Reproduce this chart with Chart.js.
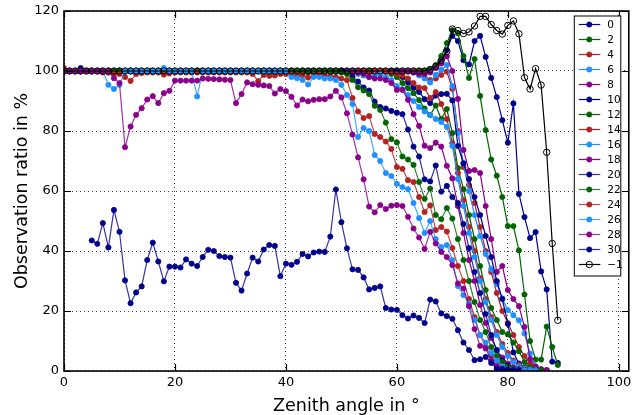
<!DOCTYPE html>
<html>
<head>
<meta charset="utf-8">
<script src="https://cdn.jsdelivr.net/npm/chart.js@4.4.0/dist/chart.umd.min.js"></script>
<style>
  html, body { margin: 0; padding: 0; background: #fff; overflow: hidden; }
  #chart { display: block; }
</style>
</head>
<body>
<canvas id="chart" width="633" height="415"></canvas>
<script>
// zenith angle bins (deg)
const zenith = [
  0, 1, 2, 3, 4, 5, 6, 7, 8, 9,
  10, 11, 12, 13, 14, 15, 16, 17, 18, 19,
  20, 21, 22, 23, 24, 25, 26, 27, 28, 29,
  30, 31, 32, 33, 34, 35, 36, 37, 38, 39,
  40, 41, 42, 43, 44, 45, 46, 47, 48, 49,
  50, 51, 52, 53, 54, 55, 56, 57, 58, 59,
  60, 61, 62, 63, 64, 65, 66, 67, 68, 69,
  70, 71, 72, 73, 74, 75, 76, 77, 78, 79,
  80, 81, 82, 83, 84, 85, 86, 87, 88, 89
];

const xTickValues = [0, 20, 40, 60, 80, 100];
const yTickValues = [0, 20, 40, 60, 80, 100, 120];

// observation ratio (%) per series
const ratio0 = [
  100, 100, 100, 101, 100, 100, 100, 100, 100, 100,
  100, 100, 100, 100, 100, 100, 100, 100, 100, 100,
  100, 100, 100, 100, 100, 100, 100, 100, 100, 100,
  100, 100, 100, 100, 100, 100, 100, 100, 100, 100,
  100, 100, 100, 100, 100, 100, 99.5, 100, 100, 100,
  100, 100, 100, 100, 100, 100, 100, 100, 100, 100,
  100, 100, 100, 100, 100, 100, 100.5, 101.5, 103.5, 107,
  111.7, 110, 103.6, 102.2, 110, 111.7, 104.7, 97.7, 91.3, 83.6,
  76.1, 89.2, 59, 51.3, 44.3, 46.3, 33.2, 27.2, 3.1, 2.7
];
const ratio2 = [
  100, 100, 100, 100, 100, 100, 100, 100, 100, 100,
  100, 100, 100, 100, 100, 100, 100, 100, 100, 100,
  100, 100, 100, 100, 100, 100, 100, 100, 100, 100,
  100, 100, 100, 100, 100, 100, 100, 100, 100, 100,
  100, 100, 100, 100, 100, 100, 100, 100, 100, 100,
  100, 100, 100, 100, 100, 100, 100, 100, 100, 100,
  100, 100, 100, 100, 100, 100, 100.5, 102, 105, 109.3,
  113.6, 112.6, 105, 97.7, 104, 91.7, 80.3, 70.5, 65.1, 58,
  48.3, 48.3, 40.2, 25.5, 10, 3.8, 3.8, 14.8, 8, 2
];
const ratio4 = [
  100, 100, 100, 100, 100, 100, 100, 100, 99.5, 99,
  99.5, 100, 100, 100, 100, 100, 100, 100, 100, 100,
  100, 100, 100, 100, 100, 100, 100, 100, 100, 100,
  100, 100, 100, 100, 99.5, 100, 100, 100, 100, 100,
  100, 100, 100, 100, 99.5, 100, 100, 100, 100, 100,
  100, 100, 100, 100, 100, 100, 100, 100, 100, 100,
  100, 100, 100, 100, 99.5, 98, 97, 97.5, 98.7, 99.8,
  94, 80, 68, 62, 56, 48, 40, 33, 26, 20,
  16, 12, 8, 5, 2.5, 1.2, 0.5, 0.3, null, null
];
const ratio6 = [
  100, 100, 100, 100, 100, 100, 100, 100, 100, 100,
  100, 100, 100, 100, 100, 100, 100, 100, 100, 100,
  100, 100, 100, 100, 100, 100, 100, 100, 100, 100,
  100, 100, 100, 100, 100, 100, 100, 100, 100, 100,
  100, 100, 100, 100, 100, 100, 100, 100, 100, 100,
  100, 100, 100, 100, 100, 100, 100, 100, 100, 100,
  100, 100, 100, 99.5, 98.5, 97.5, 96.2, 98.7, 100.4, 102,
  95, 79.3, 69.3, 60, 52, 45, 39, 34, 29, 24.2,
  20.3, 18.6, 16.9, 12.5, 5.8, 1.5, 0.5, 0.3, null, null
];
const ratio8 = [
  100, 100, 100, 100, 100, 100, 100, 100, 100, 100,
  100, 100, 100, 100, 100, 100, 100, 100, 100, 100,
  100, 100, 100, 100, 100, 100, 100, 100, 100, 100,
  100, 100, 100, 100, 100, 100, 100, 100, 100, 100,
  100, 100, 100, 100, 100, 100, 100, 100, 100, 100,
  100, 100, 100, 100, 100, 100, 100, 100, 100, 100,
  100, 100, 100, 99.5, 99, 99, 99.5, 101, 102.5, 104.9,
  100, 90.7, 73.7, 66.7, 67, 66, 55, 44, 33, 35,
  27, 24, 21.6, 14.7, 4, 1.5, 0.6, 0.3, null, null
];
const ratio10 = [
  100, 100, 100, 100, 100, 100, 100, 100, 100, 100,
  100, 100, 100, 100, 100, 100, 100, 100, 100, 100,
  100, 100, 100, 100, 100, 100, 100, 100, 100, 100,
  100, 100, 100, 100, 100, 100, 100, 100, 100, 100,
  100, 100, 100, 100, 100, 100, 100, 100, 100, 100,
  100, 100, 100, 100, 100, 100, 100, 100, 100, 100,
  100, 98, 96.2, 94.4, 93, 90.6, 89.3, 91.8, 92.3, 92.4,
  90.2, 75, 69.2, 64, 58, 52, 45, 38, 30, 24,
  15.7, 6.2, 2.5, 1.2, 0.6, 0.3, null, null, null, null
];
const ratio12 = [
  100, 100, 100, 100, 100, 100, 100, 100, 100, 100,
  100, 100, 100, 100, 100, 100, 100, 100, 100, 100,
  100, 100, 100, 100, 100, 100, 100, 100, 100, 100,
  100, 100, 100, 100, 100, 100, 100, 100, 100, 100,
  100, 100, 100, 100, 100, 100, 100, 100, 100, 100,
  100, 100, 100, 100, 100, 100, 100, 100, 100, 99,
  98, 96, 94.3, 92.6, 90.3, 87.5, 85.3, 88.5, 84, 87.3,
  79.3, 67.6, 60.6, 52, 44, 35, 27, 21, 17, 13,
  12.2, 9.5, 6.6, 3, 1.2, 0.5, 0.3, null, null, null
];
const ratio14 = [
  100, 100, 100, 100, 100, 100, 100, 100, 100, 100,
  100, 100, 100, 100, 100, 100, 100, 100, 100, 100,
  100, 100, 100, 100, 100, 100, 100, 100, 100, 100,
  100, 100, 100, 100, 100, 100, 100, 100, 100, 100,
  100, 100, 100, 100, 100, 100, 100, 100, 100, 100,
  100, 100, 99.5, 100, 100, 99.5, 100, 100, 100, 99.5,
  99, 98.5, 97.5, 96, 94.5, 94.3, 91, 93, 89, 84,
  76, 66, 57, 48, 40, 31, 24, 18, 13, 9,
  6, 3.5, 2, 1, 0.5, 0.3, null, null, null, null
];
const ratio16 = [
  100, 100, 100, 100, 100, 100, 100, 100, 100, 100,
  100, 100, 100, 100, 100, 100, 100, 100, 100, 100,
  100, 100, 100, 100, 100, 100, 100, 100, 100, 100,
  100, 100, 100, 100, 100, 100, 100, 100, 100, 100,
  100, 100, 100, 100, 100, 100, 100, 100, 100, 100,
  100, 100, 99.5, 99, 98.5, 98, 98.5, 99, 98, 97,
  95, 94, 92, 90, 88, 86.5, 85.3, 84, 83, 81.4,
  75, 64, 55, 46, 38, 30, 23, 17, 12, 8,
  5, 3, 1.5, 0.8, 0.4, 0.2, null, null, null, null
];
const ratio18 = [
  100, 100, 100, 100, 100, 100, 100, 100, 100, 100,
  100, 100, 100, 100, 100, 100, 100, 100, 100, 100,
  100, 100, 100, 100, 100, 100, 100, 100, 100, 100,
  100, 100, 100, 100, 100, 100, 100, 100, 100, 100,
  100, 100, 100, 100, 100, 100, 100, 100, 100, 100,
  100, 100, 99.5, 99.5, 99, 98, 97.5, 97.5, 97, 96,
  93.7, 93.7, 90.4, 85.6, 81.7, 75.1, 74.3, 76.1, 74.8, 68.4,
  64.2, 55, 46, 37, 30, 22, 16, 11, 7, 4.5,
  2.5, 1.2, 0.6, 0.3, null, null, null, null, null, null
];
const ratio20 = [
  100, 100, 100, 100, 100, 100, 100, 100, 100, 100,
  100, 100, 100, 100, 100, 100, 100, 100, 100, 100,
  100, 100, 100, 100, 100, 100, 100, 100, 100, 100,
  100, 100, 100, 100, 100, 100, 100, 100, 100, 100,
  100, 100, 100, 100, 100, 100, 100, 100, 100, 100,
  100, 99.5, 98, 96.5, 94.5, 93.5, 89.8, 88, 87.5, 86.7,
  86.1, 85.6, 80.5, 74.8, 71.5, 63.9, 63.2, 68.5, 59.8, 61.7,
  58, 56, 49, 41, 33, 26, 19, 12, 7, 3.5,
  1.8, 0.8, 0.4, 0.3, null, null, null, null, null, null
];
const ratio22 = [
  100, 100, 100, 100, 100, 100, 100, 100, 100, 100,
  100, 100, 100, 100, 100, 100, 100, 100, 100, 100,
  100, 100, 100, 100, 100, 100, 100, 100, 100, 100,
  100, 100, 100, 100, 100, 100, 100, 100, 100, 100,
  100, 100, 100, 100, 100, 100, 100, 100, 100, 100,
  99.5, 99, 97, 94.6, 93.5, 92.3, 88.4, 87, 82.8, 77.3,
  76.2, 71.5, 70.5, 68.7, 63, 57.4, 60.8, 52, 50.6, 54.3,
  50.8, 44, 37, 30, 23, 17, 13, 8, 5, 3,
  1.5, 0.8, 0.5, 0.3, null, null, null, null, null, null
];
const ratio24 = [
  101, 100, 100, 100, 100, 100, 100, 99.5, 99.5, 99,
  99, 98, 96.7, 99, 99.3, 99.5, 99.5, 99.5, 98.8, 99.2,
  99.5, 99.5, 99.5, 99.5, 99.5, 99.5, 99.5, 99.5, 99.5, 99.5,
  99.5, 99.5, 99.5, 99.5, 99, 96.6, 98.7, 98.4, 98.5, 99,
  99, 98.8, 98.5, 98.6, 97.8, 98.5, 99, 98.5, 98.4, 98,
  97.5, 97, 91, 86.5, 84.3, 85, 79, 78, 76.5, 74,
  68, 67.4, 63.6, 63, 58, 53, 55.2, 47, 48, 46.5,
  41, 35, 30, 24, 18, 12, 8, 5, 2.5, 1.2,
  0.6, 0.4, 0.3, 0.2, null, null, null, null, null, null
];
const ratio26 = [
  100, 100, 100, 100, 100, 100, 100, 100, 95.4, 94,
  95.4, 100, 100, 100, 100, 100, 100, 100, 101, 100,
  100, 100, 100, 100, 91.5, 100, 100, 100, 100, 100,
  100, 100, 100, 100, 100, 100, 100, 100, 100, 100,
  100, 98, 97.6, 97, 95.5, 98, 98, 97.5, 97.5, 97,
  95.4, 92, 89, 78, 81, 80, 72, 70, 66, 65,
  62.4, 61.3, 60.6, 56, 51, 46, 50, 44, 41.3, 42,
  37, 28.3, 25.3, 22.5, 17, 12, 9.5, 6, 3.5, 1.5,
  0.8, 0.4, 0.3, 0.2, null, null, null, null, null, null
];
const ratio28 = [
  100, 100, 100, 100, 100, 100, 100, 100, 100, 97.6,
  96, 74.6, 81.5, 85.4, 87.6, 90.5, 91.6, 89.3, 92.6, 93.4,
  96.8, 96.8, 96.8, 96.8, 96.8, 97.5, 97.4, 97.3, 97.2, 97.1,
  97, 89.3, 92.3, 96.2, 95.6, 95.4, 95.2, 95, 92.5, 94,
  93.3, 91.4, 88.5, 90.5, 89.9, 90.4, 90.6, 90.6, 91.5, 93.4,
  91.2, 85.9, 78.8, 71.2, 63.9, 54.8, 52.9, 55.3, 54, 55.1,
  55.3, 55, 51.4, 47.5, 44.5, 40.7, 46.4, 42.5, 39.7, 38,
  35.3, 29.2, 27.5, 21.6, 14, 8.4, 7.5, 3.6, 1.5, 0.8,
  0.5, 0.3, 0.2, null, null, null, null, null, null, null
];
const ratio30 = [
  null, null, null, null, null, 43.5, 42.4, 49.3, 41.2, 53.7,
  46.4, 30.2, 22.6, 26.2, 28.2, 37, 42.8, 36.5, 29.9, 34.8,
  34.8, 34.5, 37.2, 35.8, 35, 38, 40.4, 40, 38.3, 38,
  37.8, 29.4, 26.8, 32.5, 37.8, 36.5, 40.5, 42, 41.7, 31.6,
  35.8, 35.4, 36.4, 39, 38.2, 39.5, 39.8, 39.7, 44.8, 60.5,
  49.6, 40.9, 33.9, 33.7, 31.2, 27.2, 27.7, 28.2, 21, 20.5,
  20.4, 18.6, 17.5, 18.5, 17.7, 16, 23.8, 23.2, 19.2, 18.3,
  17.4, 13.6, 9.5, 7, 3.6, 3.9, 4.7, 2.7, 0.8, 0.6,
  0.5, 0.3, 0.2, null, null, null, null, null, null, null
];
const ratioAll = [
  100, 100, 100, 100, 100, 100, 100, 100, 100, 100,
  100, 100, 100, 100, 100, 100, 100, 100, 100, 100,
  100, 100, 100, 100, 100, 100, 100, 100, 100, 100,
  100, 100, 100, 100, 100, 100, 100, 100, 100, 100,
  100, 100, 100, 100, 100, 100, 100, 100, 100, 100,
  100, 100, 100, 100, 100, 100, 100, 100, 100, 100,
  100, 100, 100, 100, 100, 100, 100.5, 101.5, 103.5, 106.5,
  114, 113.5, 112.5, 113, 115, 118.2, 118.2, 115.5, 113.5, 112.3,
  115.2, 116.7, 112.4, 97.8, 94, 100.8, 95.3, 72.9, 42.5, 16.9
];

const seriesLabels = ['0', '2', '4', '6', '8', '10', '12', '14', '16', '18',
  '20', '22', '24', '26', '28', '30', '\u22121'];
const seriesValues = [ratio0, ratio2, ratio4, ratio6, ratio8, ratio10, ratio12,
  ratio14, ratio16, ratio18, ratio20, ratio22, ratio24, ratio26, ratio28, ratio30, ratioAll];

// colour cycle: darkblue, darkgreen, firebrick, dodgerblue, darkmagenta
const palette = ['0,0,139', '0,100,0', '178,34,34', '30,144,255', '139,0,139'];

const FONT = "'DejaVu Sans', sans-serif";

const datasets = seriesValues.map((values, i) => {
  const last = i === seriesValues.length - 1;
  const rgb = last ? '0,0,0' : palette[i % palette.length];
  const alpha = i >= 10 && !last ? 0.8 : 1;
  return {
    label: seriesLabels[i],
    data: values,
    borderColor: `rgba(${rgb},${alpha})`,
    backgroundColor: `rgba(${rgb},1)`,
    borderWidth: 1.2,
    pointRadius: last ? 3.2 : 2.6,
    pointHoverRadius: 0,
    pointBorderWidth: last ? 1 : 0.8,
    pointBorderColor: `rgb(${rgb})`,
    pointBackgroundColor: last ? 'rgba(0,0,0,0)' : `rgb(${rgb})`,
    tension: 0,
    spanGaps: false,
    order: seriesValues.length - i
  };
});

// spines plus inward tick marks on all four sides
const frameTicks = {
  id: 'frameTicks',
  afterDatasetsDraw(chart) {
    const { ctx, chartArea: a, scales } = chart;
    ctx.save();
    ctx.strokeStyle = '#000';
    ctx.lineWidth = 1.2;
    const len = 7;
    ctx.beginPath();
    xTickValues.forEach(v => {
      const px = Math.round(scales.x.getPixelForValue(v)) + 0.5;
      ctx.moveTo(px, a.bottom); ctx.lineTo(px, a.bottom - len);
      ctx.moveTo(px, a.top); ctx.lineTo(px, a.top + len);
    });
    yTickValues.forEach(v => {
      const py = Math.round(scales.y.getPixelForValue(v)) + 0.5;
      ctx.moveTo(a.left, py); ctx.lineTo(a.left + len, py);
      ctx.moveTo(a.right, py); ctx.lineTo(a.right - len, py);
    });
    ctx.stroke();
    ctx.lineWidth = 1.6;
    ctx.strokeRect(a.left, a.top, a.right - a.left, a.bottom - a.top);
    ctx.restore();
  }
};

// boxed legend in the upper right corner of the axes
const cornerLegend = {
  id: 'cornerLegend',
  afterDraw(chart) {
    const { ctx, chartArea: a } = chart;
    const sets = chart.data.datasets;
    const rowH = 15;
    const boxW = 46.5;
    const boxH = sets.length * rowH + 5;
    const left = a.right - 8 - boxW;
    const top = a.top + 5;
    ctx.save();
    ctx.fillStyle = '#fff';
    ctx.fillRect(left, top, boxW, boxH);
    ctx.strokeStyle = '#000';
    ctx.lineWidth = 1;
    ctx.strokeRect(left, top, boxW, boxH);
    ctx.font = `10.5px ${FONT}`;
    ctx.textBaseline = 'middle';
    ctx.textAlign = 'left';
    sets.forEach((ds, i) => {
      const y = top + 8.5 + i * rowH;
      ctx.strokeStyle = ds.borderColor;
      ctx.lineWidth = ds.borderWidth;
      ctx.beginPath();
      ctx.moveTo(left + 4.5, y);
      ctx.lineTo(left + 26, y);
      ctx.stroke();
      ctx.beginPath();
      ctx.arc(left + 15, y, ds.pointRadius, 0, Math.PI * 2);
      ctx.fillStyle = ds.pointBackgroundColor;
      ctx.fill();
      ctx.lineWidth = ds.pointBorderWidth;
      ctx.strokeStyle = ds.pointBorderColor;
      ctx.stroke();
      ctx.fillStyle = '#000';
      ctx.fillText(ds.label, left + 33, y + 0.5);
    });
    ctx.restore();
  }
};

new Chart(document.getElementById('chart'), {
  type: 'line',
  data: { labels: zenith, datasets },
  options: {
    responsive: false,
    animation: false,
    devicePixelRatio: 1,
    layout: { padding: { top: 11, right: 0, bottom: 0, left: 0 } },
    plugins: { legend: { display: false }, tooltip: { enabled: false } },
    scales: {
      x: {
        type: 'linear',
        min: 0,
        max: 101.8,
        afterBuildTicks: s => { s.ticks = xTickValues.map(v => ({ value: v })); },
        afterFit: s => { s.height = 44; s.paddingLeft = 0; s.paddingRight = 0; },
        ticks: { autoSkip: false, maxRotation: 0, padding: 4, color: '#000', font: { family: FONT, size: 13 } },
        grid: { color: 'rgba(0,0,0,0.75)', lineWidth: 1, drawTicks: false },
        border: { display: false, dash: [1, 3] },
        title: { display: true, text: 'Zenith angle in °', color: '#000', padding: { top: 0, bottom: -1.5 }, font: { family: FONT, size: 17.5 } }
      },
      y: {
        min: 0,
        max: 120,
        afterBuildTicks: s => { s.ticks = yTickValues.map(v => ({ value: v })); },
        afterFit: s => { s.width = 64; s.paddingTop = 0; s.paddingBottom = 0; },
        ticks: { padding: 5, color: '#000', font: { family: FONT, size: 13 } },
        grid: { color: 'rgba(0,0,0,0.75)', lineWidth: 1, drawTicks: false },
        border: { display: false, dash: [1, 3] },
        title: { display: true, text: 'Observation ratio in %', color: '#000', padding: { top: 11.5, bottom: 0 }, font: { family: FONT, size: 17.5 } }
      }
    }
  },
  plugins: [frameTicks, cornerLegend]
});
</script>
</body>
</html>
